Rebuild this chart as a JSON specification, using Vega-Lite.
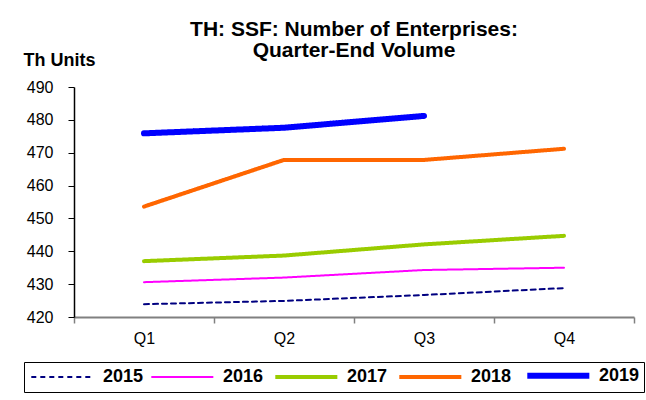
{
  "$schema": "https://vega.github.io/schema/vega-lite/v6.json",
  "width": 560,
  "height": 230,
  "autosize": "none",
  "padding": {"left": 74, "top": 87, "right": 12, "bottom": 83},
  "background": "white",
  "title": {
    "text": ["TH: SSF: Number of Enterprises:", "Quarter-End Volume"],
    "font": "Liberation Sans",
    "fontSize": 21,
    "fontWeight": "bold",
    "color": "black",
    "anchor": "middle",
    "lineHeight": 21,
    "offset": 30,
    "dy": 40
  },
  "data": {
    "values": [
      {"year": "2015", "quarter": "Q1", "value": 423.9},
      {"year": "2015", "quarter": "Q2", "value": 424.9},
      {"year": "2015", "quarter": "Q3", "value": 426.7},
      {"year": "2015", "quarter": "Q4", "value": 428.8},
      {"year": "2016", "quarter": "Q1", "value": 430.6},
      {"year": "2016", "quarter": "Q2", "value": 432.0},
      {"year": "2016", "quarter": "Q3", "value": 434.3},
      {"year": "2016", "quarter": "Q4", "value": 435.0},
      {"year": "2017", "quarter": "Q1", "value": 437.0},
      {"year": "2017", "quarter": "Q2", "value": 438.7},
      {"year": "2017", "quarter": "Q3", "value": 442.1},
      {"year": "2017", "quarter": "Q4", "value": 444.7},
      {"year": "2018", "quarter": "Q1", "value": 453.6},
      {"year": "2018", "quarter": "Q2", "value": 467.8},
      {"year": "2018", "quarter": "Q3", "value": 467.8},
      {"year": "2018", "quarter": "Q4", "value": 471.2},
      {"year": "2019", "quarter": "Q1", "value": 475.9},
      {"year": "2019", "quarter": "Q2", "value": 477.6},
      {"year": "2019", "quarter": "Q3", "value": 481.2}
    ]
  },
  "mark": {"type": "line", "strokeCap": "round", "strokeJoin": "round"},
  "encoding": {
    "x": {
      "field": "quarter",
      "type": "ordinal",
      "title": null,
      "scale": {"type": "band", "paddingInner": 0, "paddingOuter": 0},
      "axis": {
        "labelAngle": 0,
        "tickBand": "extent",
        "domainColor": "#808080",
        "domainWidth": 2,
        "tickColor": "#808080",
        "tickWidth": 1.5,
        "tickSize": 6,
        "labelPadding": 7,
        "labelFont": "Liberation Sans",
        "labelFontSize": 16,
        "labelColor": "black",
        "grid": false
      }
    },
    "y": {
      "field": "value",
      "type": "quantitative",
      "scale": {"domain": [420, 490], "nice": false, "zero": false},
      "axis": {
        "title": "Th Units",
        "titleAngle": 0,
        "titleAlign": "left",
        "titleBaseline": "alphabetic",
        "titleX": -51,
        "titleY": -22,
        "titleFont": "Liberation Sans",
        "titleFontSize": 18,
        "titleFontWeight": "bold",
        "titleColor": "black",
        "values": [420, 430, 440, 450, 460, 470, 480, 490],
        "grid": false,
        "domainColor": "black",
        "domainWidth": 1.5,
        "tickColor": "black",
        "tickWidth": 1,
        "tickSize": 6,
        "labelPadding": 15,
        "labelFont": "Liberation Sans",
        "labelFontSize": 16,
        "labelColor": "black"
      }
    },
    "color": {
      "field": "year",
      "type": "ordinal",
      "title": null,
      "scale": {
        "type": "ordinal",
        "domain": ["2015", "2016", "2017", "2018", "2019"],
        "range": ["#000080", "#FF00FF", "#99CC00", "#FF6600", "#0000FF"]
      }
    },
    "strokeWidth": {
      "field": "year",
      "type": "ordinal",
      "title": null,
      "scale": {
        "type": "ordinal",
        "domain": ["2015", "2016", "2017", "2018", "2019"],
        "range": [2, 2, 4, 4, 6]
      }
    },
    "strokeDash": {
      "field": "year",
      "type": "ordinal",
      "title": null,
      "scale": {
        "type": "ordinal",
        "domain": ["2015", "2016", "2017", "2018", "2019"],
        "range": [[5, 4], [1, 0], [1, 0], [1, 0], [1, 0]]
      }
    }
  },
  "config": {
    "view": {"stroke": null},
    "legend": {
      "orient": "none",
      "legendX": -50,
      "legendY": 275,
      "direction": "horizontal",
      "columns": 5,
      "columnPadding": 3,
      "symbolType": "M-1,0H9",
      "symbolSize": 154,
      "labelOffset": 56,
      "labelFont": "Liberation Sans",
      "labelFontSize": 18,
      "labelFontWeight": "bold",
      "labelColor": "black",
      "strokeColor": "black",
      "padding": 4
    }
  }
}
